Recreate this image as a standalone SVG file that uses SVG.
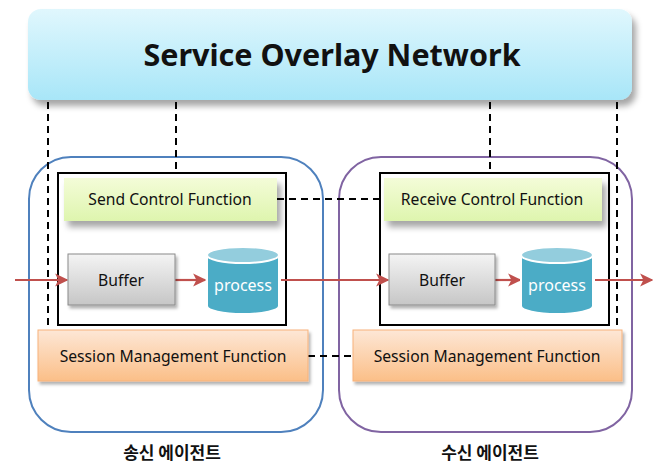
<svg xmlns="http://www.w3.org/2000/svg" width="660" height="466" viewBox="0 0 660 466">
  <defs>
    <linearGradient id="gBanner" x1="0" y1="0" x2="0" y2="1">
      <stop offset="0" stop-color="#e0f7fd"/>
      <stop offset="1" stop-color="#a8e6f8"/>
    </linearGradient>
    <linearGradient id="gCtrl" x1="0" y1="0" x2="0" y2="1">
      <stop offset="0" stop-color="#f4fcd8"/>
      <stop offset="1" stop-color="#def5ae"/>
    </linearGradient>
    <linearGradient id="gBuf" x1="0" y1="0" x2="0" y2="1">
      <stop offset="0" stop-color="#f4f4f4"/>
      <stop offset="1" stop-color="#c6c6c6"/>
    </linearGradient>
    <linearGradient id="gSess" x1="0" y1="0" x2="0" y2="1">
      <stop offset="0" stop-color="#fde7d6"/>
      <stop offset="1" stop-color="#fbbf88"/>
    </linearGradient>
    <filter id="shadow" x="-10%" y="-20%" width="130%" height="160%">
      <feDropShadow dx="4" dy="6" stdDeviation="3" flood-color="#000" flood-opacity="0.35"/>
    </filter>
    <filter id="softShadow" x="-10%" y="-20%" width="130%" height="160%">
      <feDropShadow dx="2" dy="3" stdDeviation="1.5" flood-color="#000" flood-opacity="0.3"/>
    </filter>
    <marker id="redArrow" viewBox="0 0 10 10" refX="9" refY="5" markerWidth="6" markerHeight="6" orient="auto" markerUnits="strokeWidth">
      <path d="M0,0 L10,5 L0,10 L2.5,5 Z" fill="#c0504d"/>
    </marker>
  </defs>
  <style>
    .dash { stroke: #000; stroke-width: 2; stroke-dasharray: 7 5; fill: none; }
    .flow { stroke: #c0504d; stroke-width: 2.2; fill: none; marker-end: url(#redArrow); }
    .lbl { font-family: "Noto Sans", "Liberation Sans", sans-serif; font-size: 15.7px; fill: #111; text-anchor: middle; dominant-baseline: central; }
    .agent { font-family: "Noto Sans CJK KR", "Noto Sans", sans-serif; font-size: 17px; font-weight: bold; fill: #111; text-anchor: middle; }
    .ctrl { fill: url(#gCtrl); filter: url(#shadow); }
    .buf { fill: url(#gBuf); stroke: #8a8a8a; stroke-width: 1; filter: url(#softShadow); }
    .sess { fill: url(#gSess); stroke: #f7b27a; stroke-width: 1; filter: url(#softShadow); }
    .cylBody { fill: #4bacc6; stroke: #fff; stroke-width: 2; }
    .cylTop { fill: #93cddd; stroke: #fff; stroke-width: 2; }
    .proc { font-family: "Noto Sans", "Liberation Sans", sans-serif; font-size: 16px; fill: #fff; text-anchor: middle; dominant-baseline: central; }
  </style>

  <!-- agent containers -->
  <g id="sender-agent">
    <rect x="29" y="157" width="294" height="275" rx="42" fill="none" stroke="#4f81bd" stroke-width="2"/>
    <rect x="58" y="173" width="228" height="152" fill="#fff" stroke="#000" stroke-width="2"/>
  </g>
  <g id="receiver-agent">
    <rect x="339" y="157" width="293" height="275" rx="42" fill="none" stroke="#8064a2" stroke-width="2"/>
    <rect x="380" y="173" width="229" height="152" fill="#fff" stroke="#000" stroke-width="2"/>
  </g>

  <!-- connectors -->
  <g id="connectors">
    <line class="dash" x1="48" y1="102" x2="48" y2="330"/>
    <line class="dash" x1="176" y1="102" x2="176" y2="173"/>
    <line class="dash" x1="490" y1="102" x2="490" y2="173"/>
    <line class="dash" x1="617" y1="102" x2="617" y2="330"/>
    <line class="dash" x1="277" y1="199" x2="384" y2="199"/>
    <line class="dash" x1="308" y1="356" x2="353" y2="356"/>
    <line class="flow" x1="15" y1="280" x2="67" y2="280"/>
    <line class="flow" x1="175" y1="280" x2="205" y2="280"/>
    <line class="flow" x1="281" y1="280" x2="388" y2="280"/>
    <line class="flow" x1="495" y1="280" x2="520" y2="280"/>
    <line class="flow" x1="595" y1="280" x2="652" y2="280"/>
  </g>

  <!-- overlay network banner -->
  <g id="service-overlay-network">
    <rect x="28" y="9" width="604" height="91" rx="13" fill="url(#gBanner)" filter="url(#shadow)"/>
    <text x="332" y="54" font-family="Noto Sans, Liberation Sans, sans-serif" font-size="30.5" font-weight="bold" fill="#111" text-anchor="middle" dominant-baseline="central">Service Overlay Network</text>
  </g>

  <!-- sender side -->
  <g id="send-control">
    <rect class="ctrl" x="64" y="178" width="213" height="43"/>
    <text class="lbl" x="170" y="199">Send Control Function</text>
  </g>
  <g id="send-buffer">
    <rect class="buf" x="68" y="254" width="107" height="51"/>
    <text class="lbl" x="121" y="280">Buffer</text>
  </g>
  <g id="send-process">
    <path class="cylBody" d="M207,255 L207,306 A36,8 0 0 0 279,306 L279,255 Z"/>
    <ellipse class="cylTop" cx="243" cy="255" rx="36" ry="8"/>
    <text class="proc" x="243" y="285">process</text>
  </g>
  <g id="send-session">
    <rect class="sess" x="38" y="330" width="270" height="51"/>
    <text class="lbl" x="173" y="356">Session Management Function</text>
  </g>

  <!-- receiver side -->
  <g id="receive-control">
    <rect class="ctrl" x="384" y="178" width="218" height="43"/>
    <text class="lbl" x="492" y="199">Receive Control Function</text>
  </g>
  <g id="receive-buffer">
    <rect class="buf" x="389" y="254" width="106" height="51"/>
    <text class="lbl" x="442" y="280">Buffer</text>
  </g>
  <g id="receive-process">
    <path class="cylBody" d="M521,255 L521,306 A36,8 0 0 0 593,306 L593,255 Z"/>
    <ellipse class="cylTop" cx="557" cy="255" rx="36" ry="8"/>
    <text class="proc" x="557" y="285">process</text>
  </g>
  <g id="receive-session">
    <rect class="sess" x="353" y="330" width="269" height="51"/>
    <text class="lbl" x="487" y="356">Session Management Function</text>
  </g>

  <!-- agent captions -->
  <text class="agent" x="172" y="459">송신 에이전트</text>
  <text class="agent" x="490" y="459">수신 에이전트</text>
</svg>
